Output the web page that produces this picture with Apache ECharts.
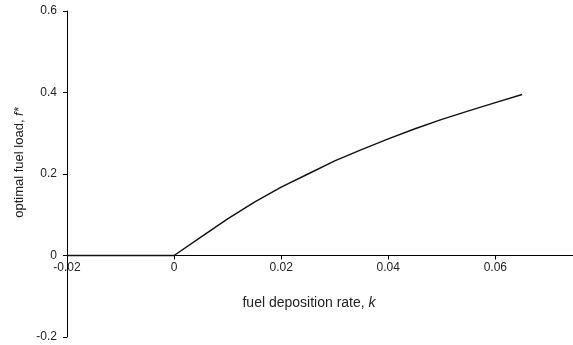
<!DOCTYPE html>
<html>
<head>
<meta charset="utf-8">
<script src="https://cdn.jsdelivr.net/npm/echarts@6/dist/echarts.min.js"></script>
<style>
  html, body { margin: 0; padding: 0; background: #fff; }
  #chart { width: 573px; height: 345px; }
</style>
</head>
<body>
<div id="chart"></div>
<script>
// fuel deposition rate k and the optimal fuel load f* at each k
const depositionRate = [-0.02, -0.015, -0.01, -0.005, 0, 0.005, 0.01, 0.015, 0.02, 0.025,
  0.03, 0.035, 0.04, 0.045, 0.05, 0.055, 0.06, 0.065];
const optimalLoad = [0, 0, 0, 0, 0, 0.045, 0.09, 0.131, 0.168, 0.2,
  0.232, 0.26, 0.286, 0.311, 0.334, 0.355, 0.375, 0.395];

const xTicks = { min: -0.02, max: 0.0745, interval: 0.02 };
const yTicks = { min: -0.2, max: 0.6, interval: 0.2 };

const FONT = '"Liberation Sans", Arial, sans-serif';
const fmt = v => (Math.abs(v) < 1e-9 ? '0' : String(+v.toFixed(2)));

const GRID = { left: 67, right: 0, top: 11, bottom: 8 };
const plotHeight = 345 - GRID.top - GRID.bottom;
// lift the k axis (with its labels) from the plot bottom up to f* = 0
const zeroOffset = -plotHeight * (0 - yTicks.min) / (yTicks.max - yTicks.min);

const chart = echarts.init(document.getElementById('chart'), null, { renderer: 'canvas' });
chart.setOption({
  animation: false,
  backgroundColor: '#fff',
  grid: Object.assign({ containLabel: false, outerBoundsMode: 'none' }, GRID),
  xAxis: {
    type: 'value',
    position: 'bottom',
    offset: zeroOffset,
    min: xTicks.min, max: xTicks.max, interval: xTicks.interval,
    axisLine: { onZero: false, lineStyle: { color: '#000', width: 1 } },
    axisTick: { show: true, length: 4, inside: false, lineStyle: { color: '#000' } },
    axisLabel: { color: '#222', fontFamily: FONT, fontSize: 12, margin: 6, formatter: fmt, showMaxLabel: false },
    splitLine: { show: false },
    name: '{n|fuel deposition rate, }{i|k}',
    nameLocation: 'middle',
    nameGap: 41,
    nameMoveOverlap: false,
    nameTextStyle: {
      padding: [0, 22, 0, 0],
      rich: {
        n: { fontFamily: FONT, fontSize: 14, color: '#222' },
        i: { fontFamily: FONT, fontSize: 14, color: '#222', fontStyle: 'italic' }
      }
    }
  },
  yAxis: {
    type: 'value',
    min: yTicks.min, max: yTicks.max, interval: yTicks.interval,
    axisLine: { show: true, onZero: false, lineStyle: { color: '#000', width: 1 } },
    axisTick: { show: true, length: 4, lineStyle: { color: '#000' } },
    axisLabel: { color: '#222', fontFamily: FONT, fontSize: 12, margin: 10, formatter: fmt },
    splitLine: { show: false },
    name: '{n|optimal fuel load, }{i|f*}',
    nameLocation: 'middle',
    nameGap: 41,
    nameMoveOverlap: false,
    nameTextStyle: {
      padding: [0, 0, 0, 23],
      rich: {
        n: { fontFamily: FONT, fontSize: 13, color: '#222' },
        i: { fontFamily: FONT, fontSize: 13, color: '#222', fontStyle: 'italic' }
      }
    }
  },
  series: [{
    type: 'line',
    data: depositionRate.map((k, i) => [k, optimalLoad[i]]),
    showSymbol: false,
    smooth: false,
    lineStyle: { color: '#111', width: 1.4 },
    z: 3
  }]
});
</script>
</body>
</html>
